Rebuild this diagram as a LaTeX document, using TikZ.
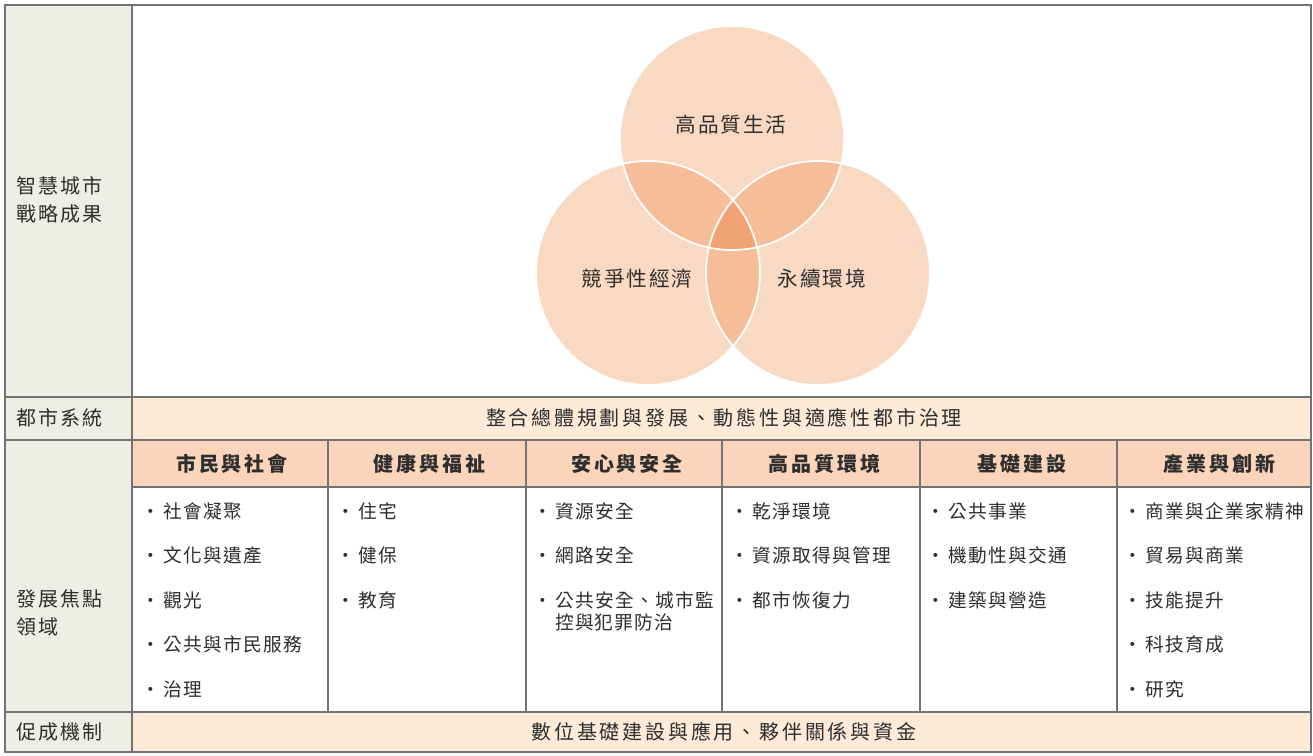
\documentclass[tikz,border=0pt]{standalone}
\usepackage{fontspec}
\setmainfont{Noto Sans CJK TC}
\usetikzlibrary{positioning}
\definecolor{sidebg}{HTML}{EEEEE6}
\definecolor{barbg}{HTML}{FDEAD7}
\definecolor{headbg}{HTML}{FAD5BB}
\definecolor{vbase}{HTML}{FAD9C3}
\definecolor{vpair}{HTML}{F6BD99}
\definecolor{vmid}{HTML}{F2A374}
\definecolor{ink}{HTML}{2E2E2E}
\tikzset{x=0.75pt,y=-0.75pt,
grid/.style={draw=gray!90!black,line width=1.1pt},
side/.style={anchor=west,align=left,text=ink,font=\fontsize{15}{21}\selectfont\addfontfeatures{LetterSpace=9}},
head/.style={text=ink,font=\fontsize{15}{18}\selectfont\bfseries\addfontfeatures{LetterSpace=14}},
bar/.style={text=ink,font=\fontsize{15}{18}\selectfont\addfontfeatures{LetterSpace=14}},
item/.style={anchor=west,text=ink,font=\fontsize{14}{17}\selectfont\addfontfeatures{LetterSpace=7}},
vlabel/.style={text=ink,font=\fontsize{15.5}{18}\selectfont\addfontfeatures{LetterSpace=9}}}
\newcommand{\vr}{84pt}

\begin{document}
\begin{tikzpicture}
\useasboundingbox (0,0) rectangle (1313,756);
% backgrounds
\fill[white] (0,0) rectangle (1313,756);
\fill[sidebg] (5,5) rectangle (132,752);
\fill[barbg] (132,397) rectangle (1311,440);
\fill[headbg] (132,440) rectangle (1311,487);
\fill[barbg] (132,712) rectangle (1311,752);
% venn
\coordinate (life) at (732,138);
\coordinate (econ) at (648,273);
\coordinate (env) at (818,273);
\fill[vbase] (life) circle[radius=\vr] (econ) circle[radius=\vr] (env) circle[radius=\vr];
\begin{scope}
\clip (life) circle[radius=\vr];
\fill[vpair] (econ) circle[radius=\vr] (env) circle[radius=\vr];
\end{scope}
\begin{scope}
\clip (econ) circle[radius=\vr];
\fill[vpair] (env) circle[radius=\vr];
\end{scope}
\begin{scope}
\clip (life) circle[radius=\vr];
\clip (econ) circle[radius=\vr];
\fill[vmid] (env) circle[radius=\vr];
\end{scope}
\draw[white,line width=1.3pt] (life) circle[radius=\vr] (econ) circle[radius=\vr] (env) circle[radius=\vr];
\node[vlabel] (lifet) at (731,125) {高品質生活};
\node[vlabel] (econt) at (637,279) {競爭性經濟};
\node[vlabel] (envt) at (822,279) {永續環境};
% grid
\draw[grid] (5,5) rectangle (1311,752);
\draw[grid] (132,5) -- (132,752);
\draw[grid] (5,397) -- (1311,397) (5,440) -- (1311,440) (132,487) -- (1311,487) (5,712) -- (1311,712);
\foreach \x in {328,526,722,920,1117}
  \draw[grid] (\x,440) -- (\x,712);
% left column
\node[side] (goal) at (12,200) {智慧城市\\戰略成果};
\node[side] (sys) at (12,418) {都市系統};
\node[side] (focus) at (12,613) {發展焦點\\領域};
\node[side] (enable) at (12,732) {促成機制};
\node[bar] (systext) at (724,418) {整合總體規劃與發展、動態性與適應性都市治理};
\node[bar] (enabletext) at (724,732) {數位基礎建設與應用、夥伴關係與資金};
% domain heads
\foreach \t [count=\i] in {市民與社會,健康與福祉,安心與安全,高品質環境,基礎建設,產業與創新}
  \node[head] (h\i) at (232+197.5*\i-197.5,464) {\t};
% domain items
\foreach \t [count=\j] in {社會凝聚,文化與遺產,觀光,公共與市民服務,治理}
  \node[item] (a\j) at (137,511+44.5*\j-44.5) {·\,\t};
\foreach \t [count=\j] in {住宅,健保,教育}
  \node[item] (b\j) at (332,511+44.5*\j-44.5) {·\,\t};
\foreach \t [count=\j] in {資源安全,網路安全,公共安全、城市監}
  \node[item] (c\j) at (529,511+44.5*\j-44.5) {·\,\t};
\node[item,below=-3pt of c3.south west,anchor=north west,xshift=16pt] (c4) {控與犯罪防治};
\foreach \t [count=\j] in {乾淨環境,資源取得與管理,都市恢復力}
  \node[item] (d\j) at (726,511+44.5*\j-44.5) {·\,\t};
\foreach \t [count=\j] in {公共事業,機動性與交通,建築與營造}
  \node[item] (e\j) at (922,511+44.5*\j-44.5) {·\,\t};
\foreach \t [count=\j] in {商業與企業家精神,貿易與商業,技能提升,科技育成,研究}
  \node[item] (f\j) at (1119,511+44.5*\j-44.5) {·\,\t};
\end{tikzpicture}
\end{document}
